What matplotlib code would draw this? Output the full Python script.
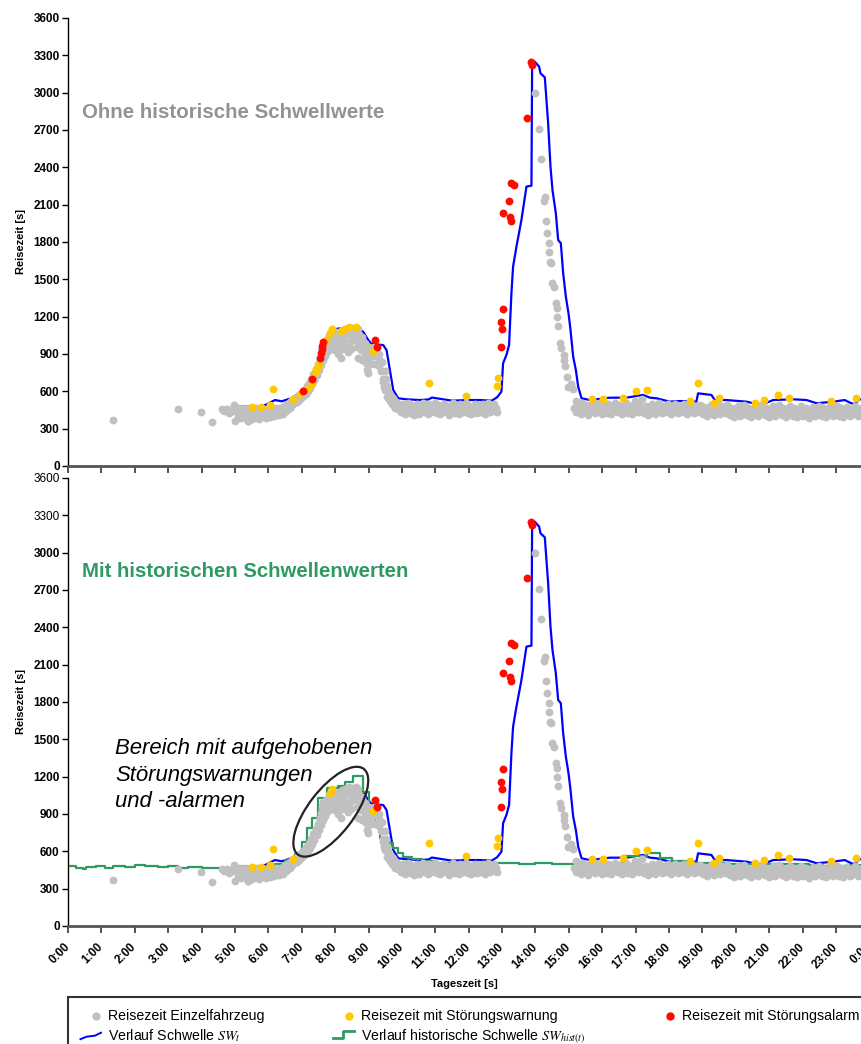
import matplotlib
matplotlib.use("Agg")
import matplotlib.pyplot as plt
from matplotlib.lines import Line2D
from matplotlib.patches import Ellipse
from matplotlib.legend_handler import HandlerBase

plt.rcParams['font.family'] = ['Liberation Sans', 'DejaVu Sans']
plt.rcParams['mathtext.fontset'] = 'stix'

# ---- data: (hour of day, travel time in s) ----
gray_early = [(1.36, 370), (3.30, 456), (3.97, 437), (4.32, 351), (4.60, 455), (4.68, 440),
              (4.75, 462), (4.82, 425), (4.90, 445), (4.98, 488), (5.00, 358), (5.40, 364)]

gray_morning = [(5.05, 440), (5.08, 400), (5.12, 465), (5.15, 420), (5.18, 385), (5.22, 450),
                (5.25, 410), (5.28, 470), (5.32, 395), (5.35, 435), (5.38, 365), (5.42, 455),
                (5.45, 405), (5.48, 425), (5.52, 380), (5.55, 445), (5.58, 410), (5.62, 470),
                (5.65, 395), (5.68, 430), (5.72, 375), (5.75, 450), (5.78, 415), (5.82, 395),
                (5.85, 440), (5.88, 420), (5.92, 385), (5.95, 460), (5.98, 405), (6.02, 430),
                (6.05, 395), (6.08, 455), (6.12, 420), (6.15, 440), (6.18, 400), (6.22, 470),
                (6.25, 425), (6.28, 445), (6.32, 410), (6.35, 470), (6.38, 435), (6.42, 455),
                (6.45, 420), (6.48, 480), (6.52, 445), (6.55, 495), (6.58, 460)]

gray_hump = [(6.62, 505), (6.65, 470), (6.68, 520), (6.72, 490), (6.75, 530), (6.78, 505),
             (6.82, 545), (6.85, 515), (6.88, 560), (6.92, 530), (6.95, 575), (6.98, 545),
             (7.02, 590), (7.05, 560), (7.08, 610), (7.12, 580), (7.15, 640), (7.18, 600),
             (7.22, 670), (7.25, 630), (7.28, 700), (7.32, 660), (7.35, 740), (7.38, 690),
             (7.42, 780), (7.45, 730), (7.48, 820), (7.52, 770), (7.55, 860), (7.58, 810),
             (7.62, 900), (7.65, 850), (7.68, 950), (7.70, 880), (7.72, 990), (7.75, 920),
             (7.78, 1020), (7.80, 960), (7.82, 1050), (7.85, 985), (7.88, 1070), (7.90, 1010),
             (7.92, 940), (7.95, 1060), (7.98, 1000), (8.00, 930), (8.02, 1080), (8.05, 1020),
             (8.08, 960), (8.10, 900), (8.12, 1060), (8.15, 1000), (8.18, 870), (8.20, 940),
             (8.22, 1090), (8.25, 1030), (8.28, 960), (8.30, 1100), (8.32, 1050), (8.35, 990),
             (8.38, 920), (8.40, 1100), (8.42, 1060), (8.45, 1000), (8.48, 940), (8.50, 1110),
             (8.52, 1070), (8.55, 1010), (8.58, 1100), (8.60, 1080), (8.62, 1020), (8.65, 960),
             (8.68, 865), (8.70, 1100), (8.72, 1050), (8.75, 980), (8.78, 930), (8.80, 852),
             (8.82, 1040), (8.85, 960), (8.88, 900), (8.90, 990), (8.92, 830), (8.94, 771),
             (8.96, 930), (8.98, 745), (9.00, 870), (9.02, 960), (9.05, 900), (9.08, 820),
             (9.10, 940), (9.12, 880), (9.15, 960), (9.18, 900), (9.20, 820), (9.22, 946),
             (9.25, 880), (9.28, 878), (9.30, 800), (9.32, 900), (9.35, 840), (9.38, 760),
             (9.40, 838), (9.42, 700), (9.44, 678), (9.46, 637), (9.48, 760), (9.50, 611),
             (9.52, 700), (9.54, 557), (9.56, 640), (9.58, 600), (9.60, 540), (9.62, 580),
             (9.65, 520), (9.68, 560), (9.70, 500), (9.72, 545), (9.75, 480), (9.78, 520),
             (9.80, 470), (9.85, 505), (9.88, 460), (9.92, 490)]

gray_midday = [(9.95, 470), (9.98, 430), (10.02, 500), (10.05, 455), (10.08, 420), (10.12, 480),
               (10.15, 440), (10.18, 505), (10.22, 460), (10.25, 425), (10.28, 490), (10.32, 445),
               (10.35, 410), (10.38, 475), (10.42, 435), (10.45, 500), (10.48, 455), (10.52, 420),
               (10.55, 480), (10.58, 445), (10.62, 510), (10.65, 460), (10.68, 430), (10.72, 485),
               (10.75, 450), (10.78, 415), (10.82, 495), (10.85, 455), (10.88, 430), (10.92, 470),
               (10.95, 440), (10.98, 505), (11.02, 460), (11.05, 425), (11.08, 490), (11.12, 450),
               (11.15, 415), (11.18, 480), (11.22, 445), (11.25, 500), (11.28, 460), (11.32, 430),
               (11.35, 485), (11.38, 440), (11.42, 410), (11.45, 475), (11.48, 450), (11.52, 505),
               (11.55, 455), (11.58, 425), (11.62, 490), (11.65, 445), (11.68, 470), (11.72, 420),
               (11.75, 495), (11.78, 455), (11.82, 430), (11.85, 480), (11.88, 445), (11.92, 510),
               (11.95, 460), (11.98, 425), (12.02, 485), (12.05, 450), (12.08, 415), (12.12, 475),
               (12.15, 440), (12.18, 500), (12.22, 455), (12.25, 425), (12.28, 490), (12.32, 445),
               (12.35, 470), (12.38, 430), (12.42, 495), (12.45, 455), (12.48, 420), (12.52, 480),
               (12.55, 445), (12.58, 505), (12.62, 460), (12.65, 430), (12.68, 485), (12.72, 450),
               (12.75, 500), (12.78, 440), (12.82, 470), (12.85, 430)]

gray_peak = [(13.98, 3000), (14.11, 2706), (14.16, 2467), (14.26, 2130), (14.28, 2159),
             (14.33, 1969), (14.36, 1875), (14.41, 1790), (14.41, 1722), (14.45, 1642),
             (14.46, 1629), (14.51, 1468), (14.55, 1441), (14.63, 1307), (14.65, 1267),
             (14.64, 1200), (14.68, 1125), (14.73, 991), (14.77, 946), (14.85, 892),
             (14.86, 852), (14.88, 804), (14.93, 718), (14.98, 637), (15.05, 660), (15.13, 616)]

gray_evening = [(15.15, 470), (15.20, 520), (15.22, 430), (15.27, 490), (15.30, 455), (15.35, 420),
                (15.38, 505), (15.42, 460), (15.46, 430), (15.50, 490), (15.54, 445), (15.58, 410),
                (15.62, 475), (15.66, 440), (15.70, 500), (15.74, 455), (15.78, 425), (15.82, 480),
                (15.86, 445), (15.90, 505), (15.94, 460), (15.98, 420), (16.02, 485), (16.06, 440),
                (16.10, 470), (16.14, 425), (16.18, 495), (16.22, 450), (16.26, 415), (16.30, 480),
                (16.34, 445), (16.38, 505), (16.42, 460), (16.46, 430), (16.50, 490), (16.54, 450),
                (16.58, 420), (16.62, 475), (16.66, 440), (16.70, 510), (16.74, 455), (16.78, 425),
                (16.82, 485), (16.86, 445), (16.90, 415), (16.94, 470), (16.98, 520), (17.02, 455),
                (17.06, 430), (17.10, 490), (17.14, 445), (17.18, 540), (17.22, 470), (17.26, 425),
                (17.30, 485), (17.34, 450), (17.38, 410), (17.42, 475), (17.46, 440), (17.50, 500),
                (17.54, 455), (17.58, 420), (17.62, 480), (17.66, 445), (17.70, 505), (17.74, 460),
                (17.78, 425), (17.82, 485), (17.86, 440), (17.90, 470), (17.94, 430), (17.98, 495),
                (18.02, 450), (18.06, 415), (18.10, 480), (18.14, 445), (18.18, 500), (18.22, 460),
                (18.26, 425), (18.30, 485), (18.34, 440), (18.38, 470), (18.42, 430), (18.46, 495),
                (18.50, 455), (18.54, 420), (18.58, 480), (18.62, 445), (18.66, 500), (18.70, 460),
                (18.74, 425), (18.78, 485), (18.82, 440), (18.86, 470), (18.90, 430), (18.94, 490),
                (18.98, 450), (19.02, 415), (19.06, 475), (19.10, 440), (19.14, 400), (19.18, 465),
                (19.22, 430), (19.26, 490), (19.30, 450), (19.34, 410), (19.38, 470), (19.42, 435),
                (19.46, 495), (19.50, 455), (19.54, 420), (19.58, 480), (19.62, 440), (19.66, 470),
                (19.70, 425), (19.74, 490), (19.78, 450), (19.82, 410), (19.86, 470), (19.90, 435),
                (19.94, 395), (19.98, 460), (20.02, 425), (20.06, 485), (20.10, 445), (20.14, 405),
                (20.18, 465), (20.22, 430), (20.26, 490), (20.30, 450), (20.34, 410), (20.38, 470),
                (20.42, 435), (20.46, 395), (20.50, 460), (20.54, 425), (20.58, 480), (20.62, 440),
                (20.66, 400), (20.70, 465), (20.74, 430), (20.78, 490), (20.82, 445), (20.86, 410),
                (20.90, 470), (20.94, 435), (20.98, 395), (21.02, 460), (21.06, 425), (21.10, 480),
                (21.14, 440), (21.18, 405), (21.22, 465), (21.26, 430), (21.30, 490), (21.34, 450),
                (21.38, 410), (21.42, 470), (21.46, 435), (21.50, 395), (21.54, 460), (21.58, 425),
                (21.62, 485), (21.66, 445), (21.70, 405), (21.74, 465), (21.78, 430), (21.82, 390),
                (21.86, 455), (21.90, 420), (21.94, 480), (21.98, 440), (22.02, 400), (22.07, 410),
                (22.10, 465), (22.14, 430), (22.18, 385), (22.22, 450), (22.26, 415), (22.30, 475),
                (22.34, 440), (22.38, 400), (22.42, 460), (22.46, 425), (22.50, 485), (22.54, 445),
                (22.58, 405), (22.62, 465), (22.66, 430), (22.70, 390), (22.74, 455), (22.78, 420),
                (22.82, 480), (22.86, 440), (22.90, 400), (22.94, 460), (22.98, 425), (23.02, 485),
                (23.06, 445), (23.10, 405), (23.14, 465), (23.18, 430), (23.22, 390), (23.26, 455),
                (23.30, 420), (23.34, 475), (23.38, 440), (23.42, 400), (23.46, 410), (23.50, 460),
                (23.54, 425), (23.58, 480), (23.62, 440), (23.66, 400), (23.70, 455), (23.74, 420),
                (23.78, 470), (23.82, 435), (23.86, 395), (23.90, 450), (23.94, 415)]

# warnings (yellow) and alarms (red); *_lifted = suppressed by historic thresholds
warn = [(5.50, 472), (5.77, 472), (6.05, 490), (6.13, 616), (6.75, 541), (6.95, 579),
        (7.20, 624), (7.30, 664), (7.40, 758), (7.46, 785), (7.53, 812), (7.74, 1013),
        (7.84, 1066), (7.90, 1098), (8.19, 1087), (8.29, 1098), (8.42, 1114), (8.64, 1114),
        (9.14, 927), (10.82, 667), (11.92, 565), (12.85, 646), (12.87, 705), (15.68, 540),
        (16.01, 540), (16.63, 544), (17.02, 605), (17.33, 610), (18.62, 520), (18.87, 665),
        (19.34, 504), (19.49, 544), (20.57, 508), (20.84, 533), (21.27, 570), (21.59, 544),
        (22.86, 526), (23.60, 544)]
warn_lifted = [0, 0, 0, 0, 0, 1, 1, 1, 1, 1, 1, 1, 0, 0, 1, 1, 1, 1, 0, 0, 0, 0, 0, 0, 0,
               0, 0, 0, 0, 0, 0, 0, 0, 0, 0, 0, 0, 0]

alarm = [(7.05, 605), (7.30, 702), (7.54, 865), (7.57, 905), (7.60, 937), (7.62, 964),
         (7.64, 999), (9.19, 1013), (9.26, 954), (12.96, 959), (13.01, 1098), (12.96, 1160),
         (13.03, 1259), (13.03, 2031), (13.23, 2003), (13.26, 1969), (13.21, 2130),
         (13.28, 2277), (13.35, 2256), (13.76, 2794), (13.88, 3249), (13.91, 3222)]
alarm_lifted = [1, 1, 1, 1, 1, 1, 1, 0, 0, 0, 0, 0, 0, 0, 0, 0, 0, 0, 0, 0, 0, 0]

# threshold SW_t
sw_h = [5.20, 5.45, 5.75, 5.95, 6.10, 6.20, 6.40, 6.70, 7.00, 7.20, 7.40, 7.55, 7.70, 7.85,
        8.00, 8.14, 8.74, 8.84, 8.99, 9.09, 9.44, 9.54, 9.64, 9.74, 9.89, 10.14, 10.54, 10.80,
        10.90, 11.50, 12.00, 12.34, 12.69, 12.85, 12.98, 13.03, 13.13, 13.21, 13.28, 13.33,
        13.43, 13.58, 13.73, 13.88, 13.90, 13.98, 14.11, 14.15, 14.28, 14.38, 14.45, 14.51,
        14.61, 14.68, 14.76, 14.83, 14.91, 14.99, 15.05, 15.13, 15.21, 15.28, 15.38, 15.63,
        16.23, 16.73, 17.03, 17.22, 17.43, 17.63, 18.02, 18.32, 18.82, 18.87, 19.27, 19.37,
        19.72, 20.32, 20.62, 20.82, 21.12, 21.72, 22.12, 22.42, 22.92, 23.26, 23.46, 23.56,
        23.71, 24.00]
sw_v = [480, 475, 478, 495, 517, 530, 520, 545, 600, 660, 760, 860, 980, 1070,
        1100, 1106, 1098, 1079, 1013, 980, 972, 932, 771, 611, 544, 536, 530, 535,
        550, 525, 530, 530, 525, 552, 597, 825, 892, 972, 1388, 1602,
        1762, 1977, 2245, 2253, 3222, 3249, 3209, 3156, 3123, 2754, 2405, 2218,
        2031, 1816, 1790, 1549, 1361, 1227, 1093, 878, 771, 637, 544, 530,
        549, 549, 563, 571, 549, 544, 517, 522, 517, 584, 571, 530,
        530, 517, 498, 498, 530, 536, 530, 504, 517, 530, 504, 498,
        536, 540]

# historic threshold SW_hist(t), stepwise
hist_h = [0.00, 0.25, 0.45, 0.55, 0.85, 1.10, 1.35, 1.70, 2.00, 2.30, 2.70, 3.00, 3.30, 3.60,
          4.00, 4.30, 4.60, 5.00, 5.40, 5.80, 6.20, 6.50, 6.80, 7.00, 7.15, 7.30, 7.49, 7.75,
          8.09, 8.29, 8.54, 8.84, 9.00, 9.10, 9.19, 9.34, 9.54, 9.74, 9.89, 10.04, 10.30, 10.60,
          11.00, 11.50, 12.00, 12.50, 13.00, 13.50, 14.00, 14.50, 15.00, 15.50, 16.00, 16.63,
          17.33, 17.73, 18.10, 18.60, 19.20, 19.80, 20.40, 21.00, 21.60, 22.20, 22.60, 23.30, 24.00]
hist_v = [480, 470, 455, 475, 480, 470, 485, 478, 490, 480, 475, 482, 470, 478,
          470, 465, 460, 462, 470, 480, 500, 530, 580, 678, 785, 866, 1026, 1106,
          1125, 1160, 1205, 1080, 960, 880, 798, 705, 665, 624, 584, 557, 540, 520,
          510, 505, 500, 505, 510, 500, 505, 495, 500, 505, 510, 563,
          589, 544, 520, 510, 505, 500, 495, 500, 495, 490, 480, 490, 490]

hour_labels = ['%d:00' % (h % 24) for h in range(25)]

# ---- derived point sets ----
gray = gray_early + gray_morning + gray_hump + gray_midday + gray_peak + gray_evening
warn_top = warn
warn_bot = [p for p, f in zip(warn, warn_lifted) if not f]
alarm_top = alarm
alarm_bot = [p for p, f in zip(alarm, alarm_lifted) if not f]
gray_bot = gray + [p for p, f in zip(warn, warn_lifted) if f] + [p for p, f in zip(alarm, alarm_lifted) if f]

C_GRAY = '#c0c0c0'
C_YEL = '#ffc800'
C_RED = '#ff0a00'
C_BLUE = '#0000ff'
C_GREEN = '#2e9a62'

W, H = 861, 1044
fig = plt.figure(figsize=(W / 100, H / 100), dpi=100)
ax_w = 24 * 33.39 / W
ax_top = fig.add_axes([68 / W, (H - 466) / H, ax_w, 448 / H])
ax_bot = fig.add_axes([68 / W, (H - 926) / H, ax_w, 448 / H])


def xy(pts):
    return [p[0] for p in pts], [p[1] for p in pts]


def draw(ax, g, w, a, show_hist):
    ax.plot(sw_h, sw_v, color=C_BLUE, lw=1.6, zorder=2)
    if show_hist:
        ax.step(hist_h, hist_v, where='post', color=C_GREEN, lw=1.6, zorder=2)
    ax.scatter(*xy(g), s=32, color=C_GRAY, lw=0, zorder=3)
    ax.scatter(*xy(w), s=32, color=C_YEL, lw=0, zorder=4)
    ax.scatter(*xy(a), s=32, color=C_RED, lw=0, zorder=5)
    ax.set_xlim(0, 24)
    ax.set_ylim(0, 3600)
    ax.set_yticks(range(0, 3601, 300))
    ax.set_xticks(range(25))
    for s in ['top', 'right']:
        ax.spines[s].set_visible(False)
    ax.spines['left'].set_linewidth(1.0)
    ax.spines['bottom'].set_linewidth(2.0)
    ax.spines['bottom'].set_color('#555555')
    ax.tick_params(axis='y', direction='out', length=4, width=1, pad=2, labelsize=8.5)
    ax.tick_params(axis='x', direction='out', length=5, width=1.2, color='#333333')
    for t in ax.get_yticklabels():
        t.set_fontweight('bold')
    ax.set_ylabel('Reisezeit [s]', fontsize=8, fontweight='bold')
    ax.yaxis.set_label_coords(-0.053, 0.5)


draw(ax_top, gray, warn_top, alarm_top, False)
draw(ax_bot, gray_bot, warn_bot, alarm_bot, True)

ax_top.set_xticklabels([])
ax_bot.set_xticklabels(hour_labels, rotation=45, ha='right', va='center',
                       rotation_mode='anchor', fontsize=8.5, fontweight='bold')
ax_bot.tick_params(axis='x', pad=9)
for t in ax_bot.get_yticklabels()[-2:]:
    t.set_fontweight('normal')
ax_bot.set_xlabel('Tageszeit [s]', fontsize=8, fontweight='bold')
ax_bot.xaxis.set_label_coords(0.495, -0.118)

ax_top.text(0.0175, 0.79, 'Ohne historische Schwellwerte', transform=ax_top.transAxes,
            fontsize=14.8, fontweight='bold', color='#939393', va='center', ha='left')
ax_bot.text(0.0175, 0.792, 'Mit historischen Schwellenwerten', transform=ax_bot.transAxes,
            fontsize=14.7, fontweight='bold', color=C_GREEN, va='center', ha='left')
ax_bot.text(0.0586, 0.42, 'Bereich mit aufgehobenen\nStörungswarnungen\nund -alarmen',
            transform=ax_bot.transAxes, fontsize=15.9, fontstyle='italic', va='top', ha='left',
            linespacing=1.36)

fig.patches.append(Ellipse((330.8 / 100, (H - 811.7) / 100), 1.08, 0.45, angle=52.4,
                           transform=fig.dpi_scale_trans, fill=False, ec='#222222', lw=1.6))


class HandlerShape(HandlerBase):
    def __init__(self, xs, ys):
        super().__init__()
        self.xs, self.ys = xs, ys

    def create_artists(self, legend, orig_handle, xdescent, ydescent, width, height,
                       fontsize, trans):
        x = [-xdescent + width * a for a in self.xs]
        y = [-ydescent + height * b for b in self.ys]
        art = Line2D(x, y, transform=trans)
        art.update_from(orig_handle)
        art.set_transform(trans)
        return [art]


h_gray = Line2D([], [], ls='none', marker='o', ms=5, color=C_GRAY)
h_yel = Line2D([], [], ls='none', marker='o', ms=5, color=C_YEL)
h_red = Line2D([], [], ls='none', marker='o', ms=5, color=C_RED)
h_blue = Line2D([], [], color=C_BLUE, lw=1.4)
h_green = Line2D([], [], color=C_GREEN, lw=2.0)
dot = HandlerShape([0.78], [0.5])

leg = fig.legend([h_gray, h_blue, h_yel, h_green, h_red],
                 ['Reisezeit Einzelfahrzeug', r'Verlauf Schwelle $SW_t$',
                  'Reisezeit mit Störungswarnung', r'Verlauf historische Schwelle $SW_{hist(t)}$',
                  'Reisezeit mit Störungsalarm'],
                 ncol=3, loc='upper left', bbox_to_anchor=(68 / W, (H - 997) / H),
                 borderaxespad=0, fontsize=10.2, frameon=True, fancybox=False,
                 edgecolor='#333333', framealpha=1, borderpad=0.88, labelspacing=0.26,
                 handlelength=1.45, handletextpad=0.5, columnspacing=4.85,
                 handler_map={h_blue: HandlerShape([0, 0.3, 0.7, 1], [0.1, 0.35, 0.45, 0.75]),
                              h_green: HandlerShape([0, 0.45, 0.45, 1], [0.15, 0.15, 0.9, 0.9]),
                              h_gray: dot, h_yel: dot, h_red: dot})
leg.get_frame().set_linewidth(1.5)

fig.savefig('out.png', dpi=100)
